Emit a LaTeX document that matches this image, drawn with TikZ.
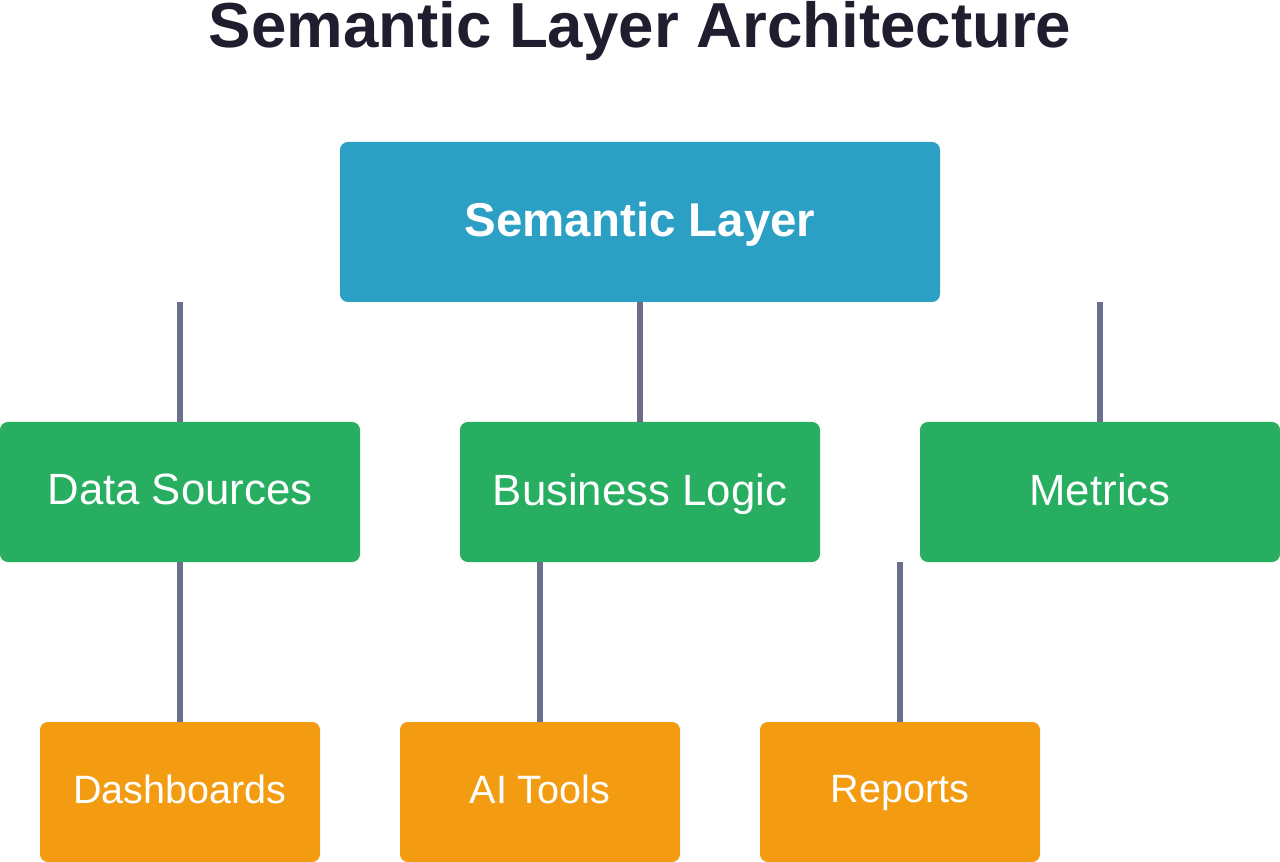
\documentclass[tikz,border=0pt]{standalone}
\usepackage{fontspec}
\setmainfont{Liberation Sans}
\usepackage{xcolor}
\usepackage{tikz}
\definecolor{titleink}{RGB}{30,30,46}
\definecolor{semblue}{RGB}{44,159,196}
\definecolor{midgreen}{RGB}{39,174,96}
\definecolor{outorange}{RGB}{243,156,18}
\definecolor{linkgray}{RGB}{108,111,140}
\tikzset{
semlayer/.style={fill=semblue,rounded corners=4.5pt,minimum width=12cm,minimum height=3.2cm,text depth=3pt,text=white,font=\bfseries\fontsize{27}{30}\selectfont},
midbox/.style={fill=midgreen,rounded corners=4.5pt,minimum width=7.2cm,minimum height=2.8cm,text depth=3pt,text=white,font=\fontsize{24.9}{28}\selectfont},
outbox/.style={fill=outorange,rounded corners=4.5pt,minimum width=5.6cm,minimum height=2.8cm,text depth=3pt,text=white,font=\fontsize{22.5}{26}\selectfont},
link/.style={linkgray,line width=3.4pt}
}
\begin{document}
\begin{tikzpicture}
\useasboundingbox(0,0)rectangle(25.6,-17.24);
\node[anchor=base,text=titleink,font=\bfseries\fontsize{36.2}{40}\selectfont](title)at(12.8,-0.96){Semantic Layer Architecture};
\node[semlayer](sem)at(12.8,-4.44){Semantic Layer};
\node[midbox](ds)at(3.6,-9.84){Data Sources};
\node[midbox](bl)at(12.8,-9.84){Business Logic};
\node[midbox](met)at(22,-9.84){Metrics};
\node[outbox](dash)at(3.6,-15.84){Dashboards};
\node[outbox](ai)at(10.8,-15.84){AI Tools};
\node[outbox](rep)at(18,-15.84){Reports};
\draw[link](ds.north)--(ds.north|-sem.south);
\draw[link](bl.north)--(sem.south);
\draw[link](met.north)--(met.north|-sem.south);
\draw[link](dash.north)--(dash.north|-ds.south);
\draw[link](ai.north)--(ai.north|-bl.south);
\draw[link](rep.north)--(rep.north|-bl.south);
\end{tikzpicture}
\end{document}
